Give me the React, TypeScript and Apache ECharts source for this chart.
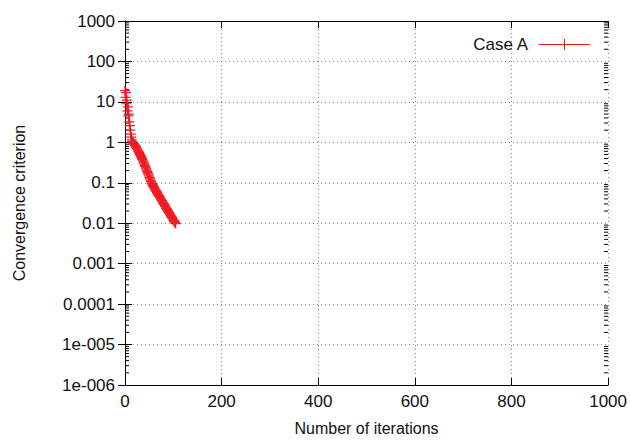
import React, { useEffect, useRef } from "react";
import * as echarts from "echarts";

const iterations = [
  0, 1, 2, 3, 4, 5, 6, 7, 8, 9, 10, 11, 12, 13, 14, 15, 16, 17, 18, 19,
  20, 21, 22, 23, 24, 25, 26, 27, 28, 29, 30, 31, 32, 33, 34, 35, 36, 37, 38, 39,
  40, 41, 42, 43, 44, 45, 46, 47, 48, 49, 50, 51, 52, 53, 54, 55, 56, 57, 58, 59,
  60, 61, 62, 63, 64, 65, 66, 67, 68, 69, 70, 71, 72, 73, 74, 75, 76, 77, 78, 79,
  80, 81, 82, 83, 84, 85, 86, 87, 88, 89, 90, 91, 92, 93, 94, 95, 96, 97, 98, 99,
  100, 101, 102, 103, 104, 105,
];
const criterion = [
  19, 13, 17, 9, 11, 6, 7.5, 4.5, 5, 3.2, 2.6, 2, 1.6, 1.35, 1.15, 1.05, 1.0, 0.97, 0.935, 0.9,
  0.865, 0.83, 0.795, 0.76, 0.725, 0.69, 0.655, 0.62, 0.59, 0.56, 0.53, 0.5, 0.475, 0.45, 0.425, 0.4, 0.375, 0.35, 0.33, 0.31,
  0.29, 0.27, 0.252, 0.235, 0.22, 0.205, 0.19, 0.178, 0.166, 0.155, 0.145, 0.135, 0.125, 0.116, 0.108, 0.1, 0.095, 0.09, 0.085, 0.081,
  0.077, 0.074, 0.07, 0.067, 0.064, 0.061, 0.058, 0.055, 0.052, 0.05, 0.048, 0.046, 0.044, 0.042, 0.04, 0.038, 0.0365, 0.035, 0.0335, 0.032,
  0.0305, 0.029, 0.0277, 0.0265, 0.0252, 0.024, 0.023, 0.022, 0.021, 0.02, 0.0191, 0.0183, 0.0175, 0.0167, 0.0159, 0.0152, 0.0145, 0.0139, 0.0133, 0.0127,
  0.0121, 0.0116, 0.0111, 0.0106, 0.0102, 0.0098,
];
const yTickValues = [1000, 100, 10, 1, 0.1, 0.01, 0.001, 0.0001, 0.00001, 0.000001];
const yTickLabels = ["1000", "100", "10", "1", "0.1", "0.01", "0.001", "0.0001", "1e-005", "1e-006"];
const decades = [0.000001, 0.00001, 0.0001, 0.001, 0.01, 0.1, 1, 10, 100];
const minorMultipliers = [2, 3, 4, 5, 6, 7, 8, 9];
const seriesName = "Case A";

const RED = "#ee1c25";
const FONT = "Liberation Sans, Arial, sans-serif";
const plusPath = "path://M0,4.4L10,4.4L10,5.6L0,5.6ZM4.4,0L5.6,0L5.6,10L4.4,10Z";
const legendIcon =
  "path://M0,5.5L51,5.5L51,6.5L0,6.5ZM25,0.5L26,0.5L26,11.5L25,11.5ZM20,5.5L31,5.5L31,6.5L20,6.5Z";

export default function App() {
  const ref = useRef<HTMLDivElement>(null);
  useEffect(() => {
    if (!ref.current) return;
    const chart = echarts.init(ref.current, null, { renderer: "svg" });
    const data = iterations.map((x, i) => [x, criterion[i]]);
    const minorData: number[][] = [];
    decades.forEach((d) => minorMultipliers.forEach((m) => minorData.push([0, d * m])));
    const labelFor = (v: number) => {
      for (let i = 0; i < yTickValues.length; i++) {
        if (Math.abs(Math.log10(v) - Math.log10(yTickValues[i])) < 1e-6) return yTickLabels[i];
      }
      return "";
    };
    const axisLine = { show: true, lineStyle: { color: "#000", width: 1 } };
    chart.setOption({
      animation: false,
      backgroundColor: "#fff",
      textStyle: { fontFamily: FONT },
      grid: { left: 125, right: 21, top: 21, bottom: 51, containLabel: false },
      legend: {
        data: [seriesName],
        right: 35,
        top: 31,
        align: "right",
        itemWidth: 51,
        itemHeight: 12,
        icon: legendIcon,
        itemStyle: { color: RED, borderWidth: 0 },
        textStyle: { fontFamily: FONT, fontSize: 17, color: "#111", padding: [0, 6, 0, 0] },
      },
      xAxis: [
        {
          type: "value",
          min: 0,
          max: 1000,
          interval: 200,
          position: "bottom",
          axisLine,
          axisTick: { show: true, inside: true, length: 7, lineStyle: { color: "#000" } },
          axisLabel: { fontFamily: FONT, fontSize: 17, color: "#111", margin: 8, formatter: (v: number) => String(v) },
          splitLine: { show: true, lineStyle: { color: "#8a8a8a", type: [1, 3], width: 1 } },
          name: "Number of iterations",
          nameLocation: "middle",
          nameGap: 35,
          nameTextStyle: { fontFamily: FONT, fontSize: 16, color: "#111" },
        },
        {
          type: "value",
          min: 0,
          max: 1000,
          interval: 200,
          position: "top",
          axisLine,
          axisTick: { show: true, inside: true, length: 7, lineStyle: { color: "#000" } },
          axisLabel: { show: false },
          splitLine: { show: false },
        },
      ],
      yAxis: [
        {
          type: "log",
          logBase: 10,
          min: 0.000001,
          max: 1000,
          position: "left",
          axisLine,
          axisTick: { show: true, inside: true, length: 7, lineStyle: { color: "#000" } },
          axisLabel: { fontFamily: FONT, fontSize: 17, color: "#111", margin: 10, formatter: labelFor },
          splitLine: { show: true, lineStyle: { color: "#8a8a8a", type: [1, 3], width: 1 } },
          name: "Convergence criterion",
          nameLocation: "middle",
          nameGap: 98,
          nameTextStyle: { fontFamily: FONT, fontSize: 16, color: "#111" },
        },
        {
          type: "log",
          logBase: 10,
          min: 0.000001,
          max: 1000,
          position: "right",
          axisLine,
          axisTick: { show: true, inside: true, length: 7, lineStyle: { color: "#000" } },
          axisLabel: { show: false },
          splitLine: { show: false },
        },
      ],
      series: [
        {
          type: "custom",
          name: "minorTicks",
          xAxisIndex: 0,
          yAxisIndex: 0,
          silent: true,
          data: minorData,
          encode: { x: 0, y: 1 },
          renderItem: (params: any, api: any) => {
            const p = api.coord([0, api.value(1)]);
            const cs = params.coordSys;
            return {
              type: "group",
              children: [
                { type: "line", shape: { x1: cs.x, y1: p[1], x2: cs.x + 4, y2: p[1] }, style: { stroke: "#000", lineWidth: 1 } },
                { type: "line", shape: { x1: cs.x + cs.width - 4, y1: p[1], x2: cs.x + cs.width, y2: p[1] }, style: { stroke: "#000", lineWidth: 1 } },
              ],
            };
          },
        },
        {
          type: "line",
          name: seriesName,
          xAxisIndex: 0,
          yAxisIndex: 0,
          data,
          symbol: plusPath,
          symbolSize: 10,
          showAllSymbol: true,
          lineStyle: { color: RED, width: 1.5 },
          itemStyle: { color: RED, borderWidth: 0 },
        },
      ],
    });
    return () => chart.dispose();
  }, []);
  return <div ref={ref} style={{ width: 630, height: 441, position: "absolute", left: 0, top: 0 }} />;
}
